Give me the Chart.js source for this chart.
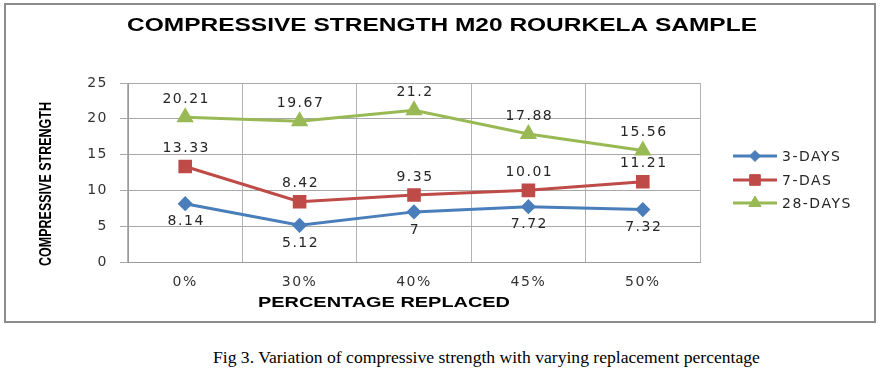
<!DOCTYPE html>
<html>
<head>
<meta charset="utf-8">
<script src="https://cdn.jsdelivr.net/npm/chart.js@4/dist/chart.umd.min.js"></script>
<style>
  html, body { margin: 0; padding: 0; background: #fff; }
  #wrap { position: relative; width: 882px; height: 378px; }
  #c { position: absolute; left: 0; top: 0; }
  #caption { position: absolute; left: 213px; top: 346px; font-family: "Liberation Serif", "Times New Roman", serif; font-size: 17.6px; line-height: 22px; color: #000; white-space: nowrap; }
</style>
</head>
<body>
<div id="wrap">
  <canvas id="c" width="882" height="330"></canvas>
  <div id="caption">Fig 3. Variation of compressive strength with varying replacement percentage</div>
</div>
<script>
const categories = ['0%', '30%', '40%', '45%', '50%'];
const days3 = [8.14, 5.12, 7, 7.72, 7.32];
const days7 = [13.33, 8.42, 9.35, 10.01, 11.21];
const days28 = [20.21, 19.67, 21.2, 17.88, 15.56];
const seriesNames = ['3-DAYS', '7-DAS', '28-DAYS'];
const yTicks = [0, 5, 10, 15, 20, 25];

const chartTitle = 'COMPRESSIVE STRENGTH M20 ROURKELA SAMPLE';
const xTitle = 'PERCENTAGE REPLACED';
const yTitle = 'COMPRESSIVE STRENGTH';

const BLUE = '#4a7ebb', RED = '#be4b48', GREEN = '#98b954';
const FAM = '"DejaVu Sans", Verdana, sans-serif';
const TXT = '14px ' + FAM;
const SPACING = '1.5px';

function fitText(ctx, text, cx, cy, font, targetW, rot) {
  ctx.save();
  ctx.font = font;
  ctx.letterSpacing = '0px';
  const w = ctx.measureText(text).width;
  const s = targetW / w;
  ctx.translate(cx, cy);
  if (rot) ctx.rotate(rot);
  ctx.scale(s, 1);
  ctx.textAlign = 'center';
  ctx.textBaseline = 'middle';
  ctx.fillStyle = '#000';
  ctx.fillText(text, 0, 0);
  ctx.restore();
}

const extras = {
  id: 'extras',
  beforeDraw(chart) {
    chart.ctx.letterSpacing = SPACING;
  },
  afterDatasetsDraw(chart) {
    const ctx = chart.ctx;
    ctx.save();
    ctx.letterSpacing = SPACING;
    ctx.font = TXT;
    ctx.textAlign = 'center';
    ctx.textBaseline = 'middle';
    ctx.fillStyle = '#262626';
    chart.data.datasets.forEach((ds, di) => {
      const meta = chart.getDatasetMeta(di);
      const off = di === 0 ? 18 : -18;
      meta.data.forEach((pt, i) => {
        ctx.fillText(String(ds.data[i]), pt.x + 1, pt.y + off);
      });
    });
    // legend
    const ly = [156, 180, 203];
    chart.data.datasets.forEach((ds, di) => {
      const y = ly[di];
      ctx.strokeStyle = ds.borderColor;
      ctx.lineWidth = 3;
      ctx.beginPath();
      ctx.moveTo(733, y);
      ctx.lineTo(777, y);
      ctx.stroke();
      ctx.fillStyle = ds.borderColor;
      ctx.lineWidth = 1;
      Chart.helpers.drawPoint(ctx, { pointStyle: ds.pointStyle, radius: ds.pointRadius, borderWidth: 1, rotation: 0 }, 755, y);
      ctx.fillStyle = '#262626';
      ctx.textAlign = 'left';
      ctx.fillText(ds.label, 782, y + 1);
    });
    ctx.restore();
  },
  afterDraw(chart) {
    const ctx = chart.ctx;
    ctx.save();
    ctx.letterSpacing = '0px';
    ctx.strokeStyle = '#8c8c8c';
    ctx.lineWidth = 2;
    ctx.strokeRect(5, 4, 870, 318);
    fitText(ctx, chartTitle, 442, 26, 'bold 18px "Liberation Sans", Arial, sans-serif', 630);
    fitText(ctx, xTitle, 384, 303, 'bold 15px "Liberation Sans", Arial, sans-serif', 252);
    fitText(ctx, yTitle, 46, 184, 'bold 17px "Liberation Sans Narrow", "Liberation Sans", Arial, sans-serif', 164, -Math.PI / 2);
    ctx.restore();
    ctx.letterSpacing = '0px';
  }
};

const ds = (label, data, color, style, r) => ({
  label, data,
  borderColor: color, backgroundColor: color,
  pointBackgroundColor: color, pointBorderColor: color,
  pointStyle: style, pointRadius: r, pointHoverRadius: r,
  borderWidth: 3, tension: 0, fill: false
});

new Chart(document.getElementById('c'), {
  type: 'line',
  data: {
    labels: categories,
    datasets: [
      ds(seriesNames[0], days3, BLUE, 'rectRot', 5.5),
      ds(seriesNames[1], days7, RED, 'rect', 7.5),
      ds(seriesNames[2], days28, GREEN, 'triangle', 7)
    ]
  },
  options: {
    responsive: false,
    devicePixelRatio: 1,
    animation: false,
    events: [],
    layout: { padding: { left: 78, right: 182, top: 83, bottom: 28 } },
    plugins: { legend: { display: false }, title: { display: false }, tooltip: { enabled: false } },
    scales: {
      x: {
        offset: true,
        grid: { display: true, offset: true, color: '#b4b4b4', lineWidth: 1, drawTicks: false },
        border: { color: '#9a9a9a' },
        ticks: { padding: 12, color: '#333', font: { family: FAM, size: 14 } },
        afterFit(s) { s.height = 40; }
      },
      y: {
        min: 0, max: 25,
        afterBuildTicks(s) { s.ticks = yTicks.map(v => ({ value: v })); },
        grid: { color: '#a8a8a8', lineWidth: 1, drawTicks: true, tickLength: 8 },
        border: { color: '#9a9a9a' },
        ticks: { padding: 12, color: '#333', font: { family: FAM, size: 14 } },
        afterFit(s) { s.width = 50; }
      }
    }
  },
  plugins: [extras]
});
</script>
</body>
</html>
